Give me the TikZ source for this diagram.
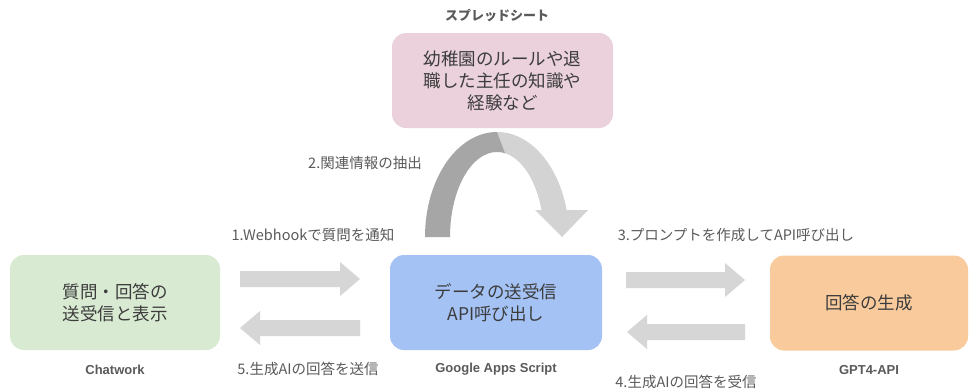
\documentclass[tikz,border=0pt]{standalone}
\usepackage{fontspec}
\setmainfont{Noto Sans CJK JP}
\newfontfamily\latinlab{Liberation Sans}
\usetikzlibrary{calc}
\definecolor{pinkbox}{HTML}{EAD1DC}
\definecolor{greenbox}{HTML}{D9EAD3}
\definecolor{bluebox}{HTML}{A4C2F4}
\definecolor{orangebox}{HTML}{F9CB9C}
\definecolor{arrowgray}{HTML}{D6D6D6}
\definecolor{archdark}{HTML}{A6A6A6}
\definecolor{archlight}{HTML}{D3D3D3}
\definecolor{boxtext}{HTML}{3C3C3C}
\definecolor{labtext}{HTML}{5A5A5A}
\newcommand\myblockarrow[3]{% tail x, tip x, centre y
  \pgfmathsetmacro\hb{#2 - 20*sign(#2 - #1)}
  \fill[arrowgray] (#1,#3-8) -- (\hb,#3-8) -- (\hb,#3-17) -- (#2,#3)
    -- (\hb,#3+17) -- (\hb,#3+8) -- (#1,#3+8) -- cycle;
}
\begin{document}
\begin{tikzpicture}[x=1pt,y=-1pt,
  box/.style={rounded corners=14pt, minimum width=#1, minimum height=95pt,
    inner sep=0pt, align=center, text=boxtext,
    font=\fontsize{17.5}{22}\selectfont},
  lab/.style={text=labtext, inner sep=0pt, font=\fontsize{14.5}{17}\selectfont},
  title/.style={text=labtext, inner sep=0pt, font=\latinlab\bfseries\fontsize{13}{15}\selectfont},
  jtitle/.style={text=labtext, inner sep=0pt, font=\bfseries\fontsize{13}{15}\selectfont}
]
\useasboundingbox (0,0) rectangle (969,391);
\fill[white] (0,0) rectangle (969,391);

% boxes
\node[box=221pt, fill=pinkbox] (sheet) at (502.5,80.5)
  {幼稚園のルールや退\\職した主任の知識や\\経験など};
\node[box=210pt, fill=greenbox] (chat) at (115,302.5)
  {質問・回答の\\送受信と表示};
\node[box=212pt, fill=bluebox] (gas) at (496,302.5)
  {データの送受信\\API呼び出し};
\node[box=198pt, fill=orangebox] (gpt) at (869,303)
  {回答の生成};

% titles
\node[jtitle] (tsheet) at (497,16) {スプレッドシート};
\node[title] (tchat) at (115,370) {Chatwork};
\node[title] (tgas) at (496,369) {Google Apps Script};
\node[title] (tgpt) at (869,370) {GPT4-API};

% curved arrow (arch), ellipse centre (497,237)
\coordinate (ac) at (497,237);
\fill[archlight] ($(ac)+(270:72 and 105)$)
  arc[start angle=270, end angle=345.1, x radius=72, y radius=105]
  -- (588,210) -- (562,237) -- (535,210)
  -- ($(ac)+(341.5:47 and 85)$)
  arc[start angle=341.5, end angle=280, x radius=47, y radius=85]
  -- cycle;
\fill[archdark] ($(ac)+(180:72 and 105)$)
  arc[start angle=180, end angle=270, x radius=72, y radius=105]
  -- ($(ac)+(280:47 and 85)$)
  arc[start angle=280, end angle=180, x radius=47, y radius=85]
  -- cycle;

% block arrows
\myblockarrow{240}{360}{279}
\myblockarrow{360}{240}{328}
\myblockarrow{626}{745}{280}
\myblockarrow{745}{627}{332}

% step labels
\node[lab] (l1) at (313,235) {1.Webhookで質問を通知};
\node[lab] (l2) at (365,163) {2.関連情報の抽出};
\node[lab] (l3) at (736,235) {3.プロンプトを作成してAPI呼び出し};
\node[lab] (l4) at (686,382) {4.生成AIの回答を受信};
\node[lab] (l5) at (308,369) {5.生成AIの回答を送信};
\end{tikzpicture}
\end{document}
